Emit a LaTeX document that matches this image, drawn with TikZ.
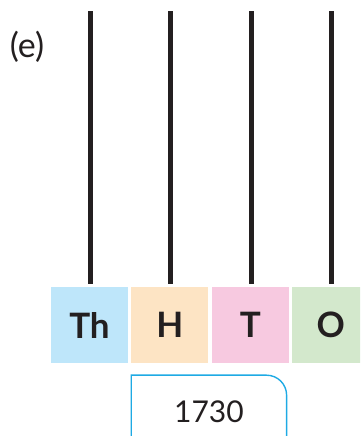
\documentclass[tikz,border=0pt]{standalone}
\usepackage{fontspec}
\setmainfont{Lato}
\usepackage{xcolor}
\definecolor{inkBlack}{RGB}{35, 31, 32}
\definecolor{thBlue}{RGB}{190, 230, 250}
\definecolor{hPeach}{RGB}{253, 228, 196}
\definecolor{tPink}{RGB}{247, 201, 224}
\definecolor{oGreen}{RGB}{211, 232, 204}
\definecolor{frameCyan}{RGB}{30, 170, 228}
\usetikzlibrary{positioning}
\tikzset{
    place/.style={minimum width=77pt, minimum height=76pt, inner sep=0pt, text=inkBlack, font=\fontsize{35}{40}\selectfont\bfseries},
    stem/.style={draw=inkBlack, line width=5pt},
    yearbox/.style={minimum width=155pt, minimum height=72pt, inner sep=0pt, text=inkBlack, font=\fontsize{30}{36}\selectfont},
    yearline/.style={draw=frameCyan, line width=1.4pt}
}

\begin{document}
\begin{tikzpicture}[x=1pt, y=1pt]
    \clip (0,0) rectangle (360,436);

    % --- PART LABEL ---
    \node[text=inkBlack, font=\fontsize{34}{40}\selectfont] (part) at (27, 389) {(e)};

    % --- PLACE VALUE BOXES ---
    \node[place, fill=thBlue] (th) at (89.5, 111) {Th};
    \node[place, fill=hPeach, right=3pt of th] (h) {H};
    \node[place, fill=tPink, right=3pt of h] (t) {T};
    \node[place, fill=oGreen, right=3pt of t] (o) {O};

    % Spikes
    \foreach \col in {th, h, t, o} {
        \coordinate (\col top) at ([xshift=1pt, yshift=276pt]\col.north);
        \draw[stem] ([xshift=1pt, yshift=3pt]\col.north) -- (\col top);
    }

    % --- ANSWER BOX ---
    \node[yearbox, anchor=north west] (year) at ([yshift=-12pt]h.south west) {1730};
    \draw[yearline] (year.south west) -- (year.north west)
        -- ([xshift=-20pt]year.north east) arc[start angle=90, end angle=0, radius=20pt]
        -- (year.south east);
\end{tikzpicture}
\end{document}
